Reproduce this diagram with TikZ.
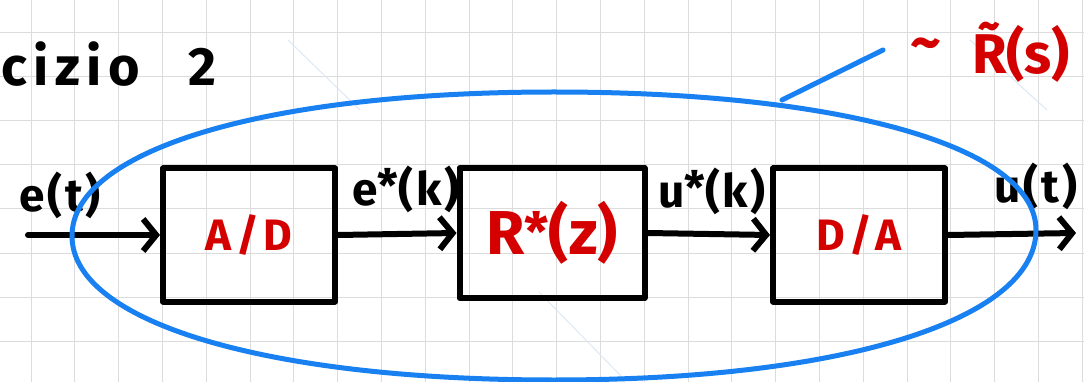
\documentclass[tikz,border=0pt]{standalone}
\usepackage{fontspec}
\setmainfont{Fira Sans}
\usetikzlibrary{arrows.meta}
\definecolor{inkred}{RGB}{212,0,0}
\definecolor{inkblue}{RGB}{24,128,240}
\definecolor{gridgray}{RGB}{220,220,220}
\definecolor{wmark}{RGB}{222,233,245}
\tikzset{
  gridline/.style={draw=gridgray, line width=1pt},
  ink/.style={draw=black, line width=6pt, line cap=round, line join=round},
  block/.style={ink, text=inkred, inner sep=0pt, font=\fontsize{44}{44}\selectfont\bfseries\addfontfeature{LetterSpace=10}},
  flow/.style={ink, -{Straight Barb[length=13pt,width=32pt]}},
  lbl/.style={inner sep=0pt, font=\fontsize{46}{46}\selectfont\bfseries\addfontfeature{LetterSpace=6}},
  bluepen/.style={draw=inkblue, line width=5pt, line cap=round},
  wm/.style={draw=wmark, line width=1pt}
}
\begin{document}
\begin{tikzpicture}[x=1pt,y=-1pt]
\useasboundingbox (0,0) rectangle (1084,382);
\fill[white] (0,0) rectangle (1084,382);
% grid
\foreach \i in {0,...,24} \draw[gridline] ({31+43.8*\i},0) -- ({31+43.8*\i},382);
\foreach \j in {0,...,7} \draw[gridline] (0,{33+44*\j}) -- (1084,{33+44*\j});
% faint background strokes
\draw[wm] (288,40) -- (360,110);
\draw[wm] (970,40) -- (1047,110);
\draw[wm] (539,292) -- (622,377);
% title
\node[anchor=west, inner sep=0pt, font=\fontsize{54}{54}\selectfont\bfseries\addfontfeature{LetterSpace=12}] (title) at (1,64) {cizio\hspace{0.9em}2};
% blocks
\node[block, minimum width=172pt, minimum height=133pt] (ad) at (249,235) {A/D};
\node[block, minimum width=185pt, minimum height=130pt, font=\fontsize{62}{62}\selectfont\bfseries] (rz) at (552,233) {R\raisebox{0.05em}{\fontsize{54}{54}\selectfont*}(z)};
\node[block, minimum width=172pt, minimum height=133pt] (da) at (859,235) {D/A};
% connectors
\coordinate (in) at (28,235);
\coordinate (out) at (1076,233);
\draw[flow] (in) -- (ad.west);
\draw[flow] (ad.east) -- (rz.west);
\draw[flow] (rz.east) -- (da.west);
\draw[flow] (da.east) -- (out);
% signal labels
\node[lbl] (le) at (60,195) {e(t)};
\node[lbl] (les) at (406,189) {e\raisebox{0.05em}{\fontsize{46}{46}\selectfont*}(k)};
\node[lbl] (lus) at (712,191) {u\raisebox{0.05em}{\fontsize{46}{46}\selectfont*}(k)};
\node[lbl] (lu) at (1036,186) {u(t)};
% blue ellipse
\draw[bluepen] (1036,230) .. controls (1036,147) and (843,92) .. (554,92)
  .. controls (265,92) and (72,150) .. (72,236)
  .. controls (72,322) and (265,380) .. (554,380)
  .. controls (843,380) and (1036,320) .. (1036,230);
\coordinate (p1) at (782,100);
\coordinate (p2) at (883,50);
\draw[bluepen] (p1) -- (p2);
% red label
\node[text=inkred, inner sep=0pt, font=\fontsize{60}{60}\selectfont\bfseries] (tl) at (926,50) {\textasciitilde};
\node[text=inkred, inner sep=0pt, font=\fontsize{56}{56}\selectfont\bfseries] (rs) at (1021,52) {R̃(s)};
\end{tikzpicture}
\end{document}
